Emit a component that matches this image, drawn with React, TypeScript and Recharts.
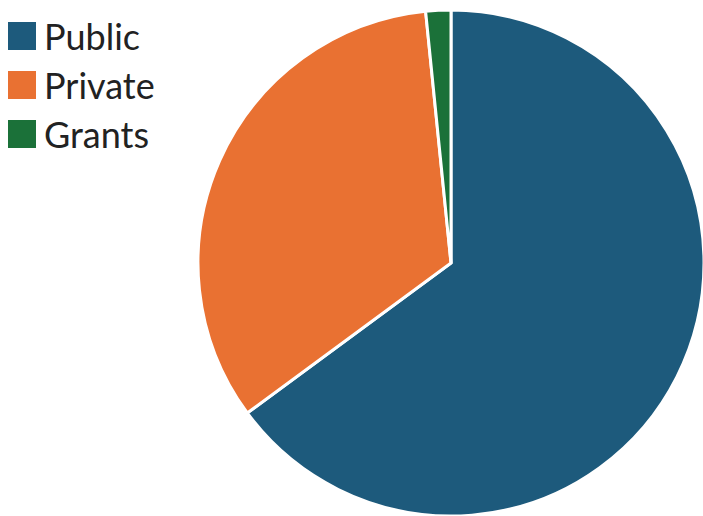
import React from "react";
import { PieChart, Pie, Cell, Legend } from "recharts";

const categories = ["Public", "Private", "Grants"];
const values = [64.9, 33.5, 1.6];
const colors = ["#1d5a7c", "#e97132", "#1b7139"];

const data = categories.map((name, i) => ({ name, value: values[i] }));

const renderLegend = () => {
  return (
    <div style={{ position: "absolute", left: 8, top: 22 }}>
      {categories.map((name, i) => (
        <div
          key={name}
          style={{
            display: "flex",
            alignItems: "center",
            height: 28,
            marginBottom: 21,
          }}
        >
          <div style={{ width: 28, height: 28, background: colors[i], marginRight: 8 }} />
          <span
            style={{
              fontFamily: "Lato, sans-serif",
              fontSize: 36,
              color: "#222",
              lineHeight: "28px",
            }}
          >
            {name}
          </span>
        </div>
      ))}
    </div>
  );
};

export default function App() {
  return (
    <div style={{ position: "absolute", left: 0, top: 0, width: 703, height: 516, background: "#fff" }}>
      <PieChart width={703} height={516} margin={{ top: 0, right: 0, bottom: 0, left: 0 }}>
        <Pie
          data={data}
          dataKey="value"
          nameKey="name"
          cx={451}
          cy={263}
          outerRadius={253}
          startAngle={90}
          endAngle={-270}
          stroke="#ffffff"
          strokeWidth={3}
          isAnimationActive={false}
        >
          {data.map((d, i) => (
            <Cell key={d.name} fill={colors[i]} />
          ))}
        </Pie>
        <Legend content={renderLegend} wrapperStyle={{ left: 0, top: 0, width: 200, height: 160 }} />
      </PieChart>
    </div>
  );
}
